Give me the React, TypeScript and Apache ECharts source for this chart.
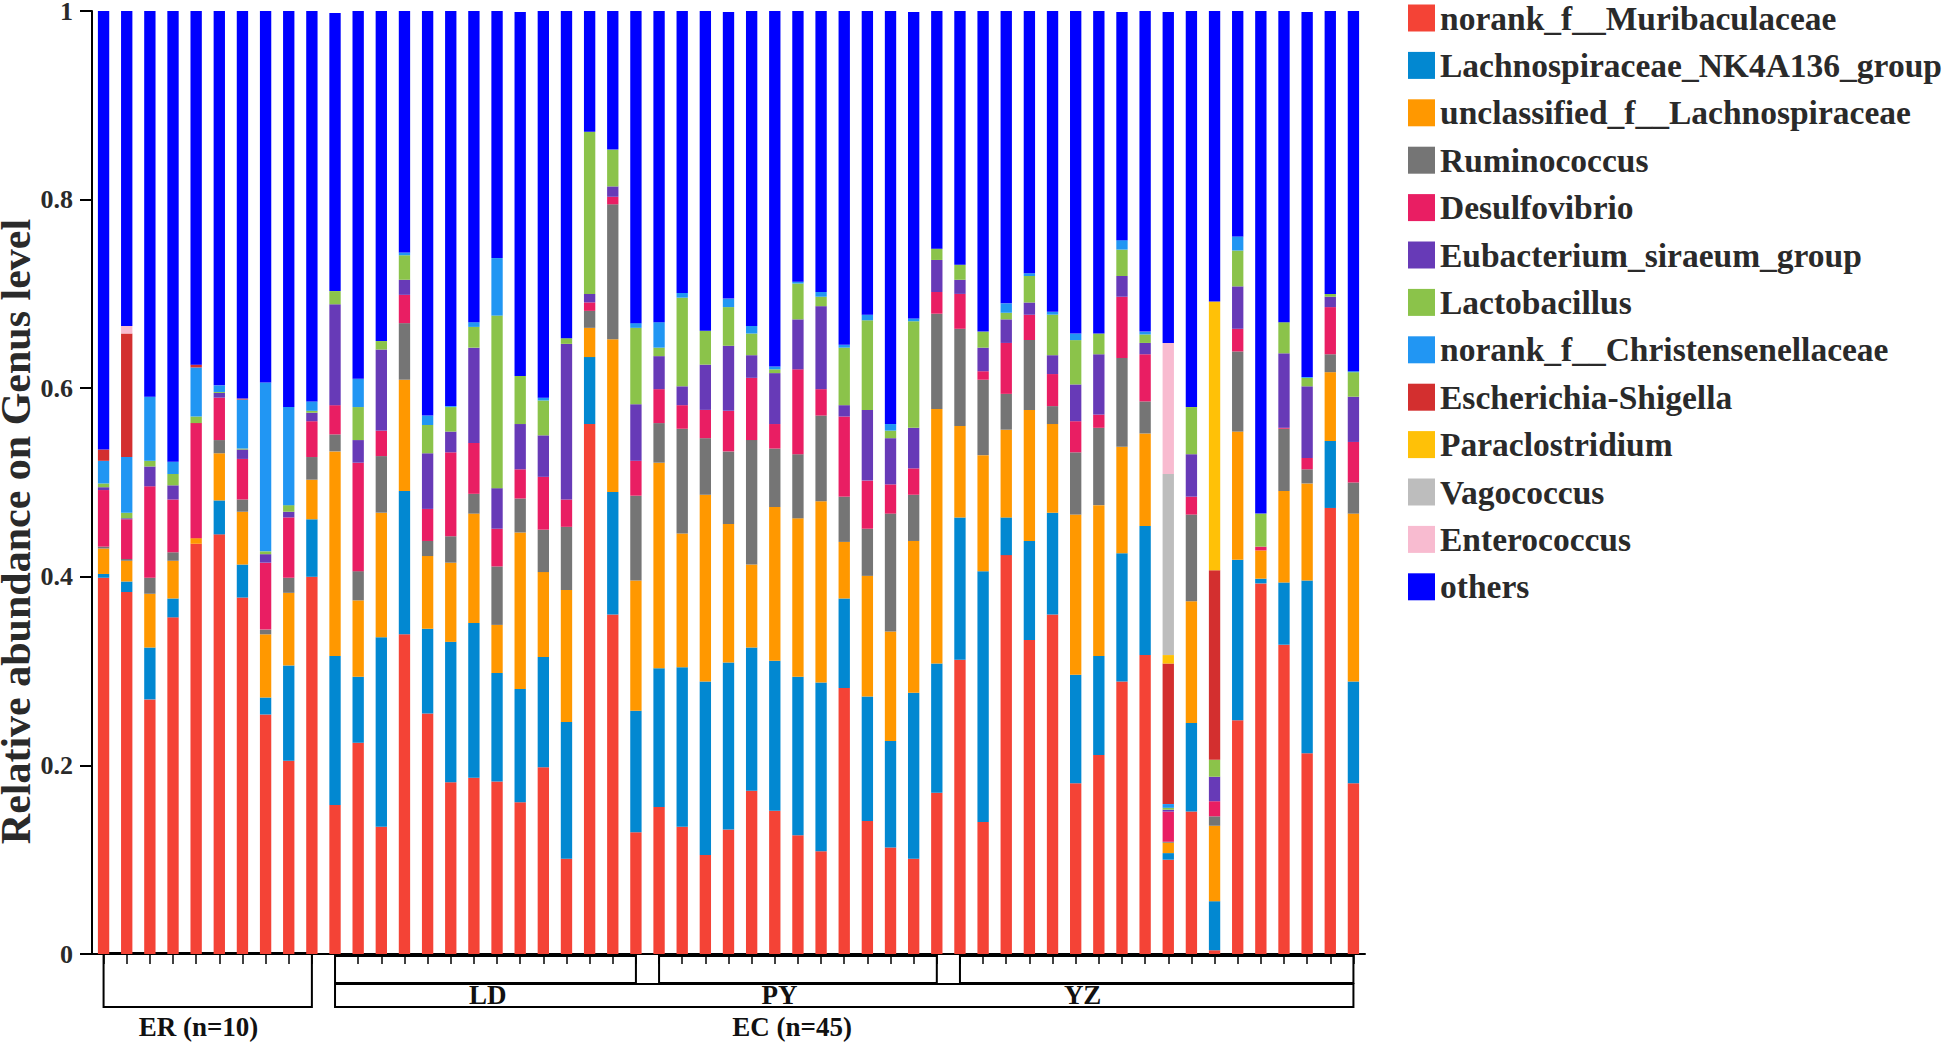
import React, { useEffect, useRef } from "react";
import * as echarts from "echarts";

const genera = [
  "norank_f__Muribaculaceae",
  "Lachnospiraceae_NK4A136_group",
  "unclassified_f__Lachnospiraceae",
  "Ruminococcus",
  "Desulfovibrio",
  "Eubacterium_siraeum_group",
  "Lactobacillus",
  "norank_f__Christensenellaceae",
  "Escherichia-Shigella",
  "Paraclostridium",
  "Vagococcus",
  "Enterococcus",
  "others",
];

const colors = [
  "#F44336", "#0288D1", "#FF9800", "#757575", "#E91E63", "#673AB7", "#8BC34A",
  "#2196F3", "#D32F2F", "#FFC107", "#BDBDBD", "#F8BBD0", "#0000FF",
];

const groupNames = ["ER", "LD", "PY", "YZ"];
const groupSizes = [10, 14, 13, 18];
const samples = groupNames.flatMap((g, i) =>
  Array.from({ length: groupSizes[i] }, (_, k) => g + (k + 1))
);

const muribaculaceae = [
  0.399, 0.384, 0.270, 0.357, 0.435, 0.445, 0.378, 0.254, 0.205, 0.400,
  0.158, 0.224, 0.135, 0.339, 0.255, 0.182, 0.187, 0.183, 0.161, 0.198,
  0.101, 0.562, 0.360, 0.129, 0.156, 0.135, 0.105, 0.132, 0.173, 0.152,
  0.126, 0.109, 0.282, 0.141, 0.113, 0.101, 0.171, 0.312, 0.140, 0.423,
  0.333, 0.360, 0.181, 0.211, 0.289, 0.317, 0.100, 0.151, 0.004, 0.248,
  0.393, 0.328, 0.213, 0.473, 0.181,
];
const nk4a136 = [
  0.004, 0.011, 0.055, 0.020, 0.000, 0.036, 0.035, 0.018, 0.101, 0.061,
  0.158, 0.070, 0.201, 0.152, 0.090, 0.149, 0.164, 0.115, 0.120, 0.117,
  0.145, 0.071, 0.130, 0.129, 0.147, 0.169, 0.184, 0.177, 0.152, 0.159,
  0.168, 0.179, 0.095, 0.132, 0.113, 0.176, 0.137, 0.151, 0.266, 0.040,
  0.105, 0.108, 0.115, 0.105, 0.136, 0.137, 0.007, 0.094, 0.052, 0.170,
  0.005, 0.066, 0.183, 0.071, 0.108,
];
const unclassifiedLachno = [
  0.027, 0.022, 0.057, 0.040, 0.006, 0.050, 0.056, 0.067, 0.077, 0.042,
  0.217, 0.081, 0.132, 0.118, 0.077, 0.084, 0.116, 0.051, 0.166, 0.090,
  0.140, 0.031, 0.162, 0.138, 0.218, 0.142, 0.198, 0.147, 0.088, 0.163,
  0.168, 0.192, 0.060, 0.128, 0.116, 0.161, 0.270, 0.097, 0.123, 0.093,
  0.139, 0.094, 0.170, 0.160, 0.113, 0.098, 0.011, 0.129, 0.080, 0.136,
  0.030, 0.097, 0.103, 0.073, 0.178,
];
const ruminococcus = [
  0.002, 0.002, 0.017, 0.009, 0.000, 0.014, 0.013, 0.005, 0.016, 0.024,
  0.018, 0.031, 0.060, 0.060, 0.016, 0.028, 0.021, 0.062, 0.036, 0.045,
  0.067, 0.018, 0.143, 0.090, 0.042, 0.111, 0.060, 0.077, 0.132, 0.062,
  0.068, 0.091, 0.048, 0.050, 0.125, 0.049, 0.101, 0.103, 0.080, 0.038,
  0.074, 0.019, 0.066, 0.082, 0.094, 0.034, 0.001, 0.092, 0.010, 0.085,
  0.000, 0.066, 0.015, 0.019, 0.033,
];
const desulfovibrio = [
  0.060, 0.042, 0.097, 0.056, 0.122, 0.045, 0.043, 0.071, 0.064, 0.038,
  0.031, 0.115, 0.027, 0.030, 0.034, 0.089, 0.054, 0.040, 0.031, 0.056,
  0.029, 0.009, 0.008, 0.037, 0.036, 0.025, 0.030, 0.043, 0.066, 0.026,
  0.090, 0.028, 0.085, 0.051, 0.031, 0.028, 0.023, 0.037, 0.009, 0.054,
  0.027, 0.034, 0.033, 0.014, 0.065, 0.050, 0.032, 0.019, 0.016, 0.024,
  0.004, 0.001, 0.012, 0.050, 0.043,
];
const eubacterium = [
  0.003, 0.001, 0.021, 0.015, 0.000, 0.005, 0.010, 0.009, 0.006, 0.009,
  0.107, 0.024, 0.086, 0.016, 0.059, 0.022, 0.101, 0.043, 0.048, 0.044,
  0.165, 0.009, 0.011, 0.060, 0.035, 0.020, 0.048, 0.069, 0.024, 0.054,
  0.053, 0.088, 0.012, 0.075, 0.049, 0.043, 0.034, 0.015, 0.025, 0.025,
  0.013, 0.020, 0.039, 0.064, 0.022, 0.012, 0.002, 0.045, 0.026, 0.045,
  0.000, 0.079, 0.076, 0.011, 0.048,
];
const lactobacillus = [
  0.004, 0.006, 0.006, 0.012, 0.007, 0.001, 0.001, 0.003, 0.007, 0.002,
  0.014, 0.035, 0.009, 0.026, 0.030, 0.026, 0.022, 0.183, 0.051, 0.037,
  0.006, 0.172, 0.039, 0.081, 0.009, 0.094, 0.036, 0.041, 0.023, 0.004,
  0.038, 0.010, 0.061, 0.095, 0.008, 0.113, 0.012, 0.016, 0.017, 0.007,
  0.028, 0.043, 0.047, 0.022, 0.028, 0.009, 0.002, 0.050, 0.018, 0.038,
  0.035, 0.033, 0.009, 0.003, 0.026,
];
const christensenellaceae = [
  0.024, 0.059, 0.068, 0.013, 0.052, 0.007, 0.052, 0.179, 0.104, 0.010,
  0.000, 0.030, 0.000, 0.003, 0.010, 0.001, 0.005, 0.061, 0.000, 0.003,
  0.000, 0.000, 0.000, 0.005, 0.027, 0.005, 0.000, 0.009, 0.008, 0.003,
  0.002, 0.005, 0.003, 0.006, 0.007, 0.003, 0.000, 0.000, 0.000, 0.010,
  0.003, 0.003, 0.007, 0.000, 0.010, 0.003, 0.004, 0.000, 0.000, 0.015,
  0.000, 0.000, 0.001, 0.000, 0.001,
];
const escherichia = [
  0.012, 0.131, 0, 0, 0.003, 0, 0.001, 0, 0, 0,
  0, 0, 0, 0, 0, 0, 0, 0, 0, 0,
  0, 0, 0, 0, 0, 0, 0, 0, 0, 0,
  0, 0, 0, 0, 0, 0, 0, 0, 0, 0,
  0, 0, 0, 0, 0, 0, 0.149, 0, 0.201, 0,
  0, 0, 0, 0, 0,
];
const paraclostridium = [
  0, 0, 0, 0, 0, 0, 0, 0, 0, 0,
  0, 0, 0, 0, 0, 0, 0, 0, 0, 0,
  0, 0, 0, 0, 0, 0, 0, 0, 0, 0,
  0, 0, 0, 0, 0, 0, 0, 0, 0, 0,
  0, 0, 0, 0, 0, 0, 0.009, 0, 0.285, 0,
  0, 0, 0, 0, 0,
];
const vagococcus = [
  0, 0, 0, 0, 0, 0, 0, 0, 0, 0,
  0, 0, 0, 0, 0, 0, 0, 0, 0, 0,
  0, 0, 0, 0, 0, 0, 0, 0, 0, 0,
  0, 0, 0, 0, 0, 0, 0, 0, 0, 0,
  0, 0, 0, 0, 0, 0, 0.192, 0, 0, 0,
  0, 0, 0, 0, 0,
];
const enterococcus = [
  0, 0.008, 0, 0, 0, 0, 0, 0, 0, 0,
  0, 0, 0, 0, 0, 0, 0, 0, 0, 0,
  0, 0, 0, 0, 0, 0, 0, 0, 0, 0,
  0, 0, 0, 0, 0, 0, 0, 0, 0, 0,
  0, 0, 0, 0, 0, 0, 0.139, 0, 0, 0,
  0, 0, 0, 0, 0,
];
const others = [
  0.467, 0.336, 0.410, 0.478, 0.376, 0.397, 0.412, 0.395, 0.422, 0.416,
  0.295, 0.391, 0.351, 0.258, 0.430, 0.420, 0.332, 0.262, 0.386, 0.410,
  0.348, 0.129, 0.149, 0.332, 0.330, 0.300, 0.340, 0.304, 0.334, 0.378,
  0.287, 0.298, 0.354, 0.323, 0.438, 0.325, 0.253, 0.269, 0.341, 0.311,
  0.278, 0.319, 0.342, 0.342, 0.242, 0.340, 0.351, 0.421, 0.309, 0.240,
  0.533, 0.330, 0.387, 0.300, 0.382,
];

const seriesValues = [
  muribaculaceae, nk4a136, unclassifiedLachno, ruminococcus, desulfovibrio,
  eubacterium, lactobacillus, christensenellaceae, escherichia, paraclostridium,
  vagococcus, enterococcus, others,
];

// group brackets: first/last sample index, label position (in sample index units)
const subgroupBoxes = [
  { label: "LD", from: 10, to: 23, labelAt: 16.6 },
  { label: "PY", from: 24, to: 36, labelAt: 29.2 },
  { label: "YZ", from: 37, to: 54, labelAt: 42.3 },
];
const mainGroups = [
  { label: "ER (n=10)", from: 0, to: 9, labelAt: 4.1, full: true },
  { label: "EC (n=45)", from: 10, to: 54, labelAt: 29.75, full: false },
];

const FONT = "'Liberation Serif', 'Times New Roman', serif";

export default function App() {
  const ref = useRef<HTMLDivElement>(null);

  useEffect(() => {
    if (!ref.current) return;
    const chart = echarts.init(ref.current, undefined, { renderer: "svg" });
    chart.setOption({
      animation: false,
      grid: {
        left: 92,
        right: 581,
        top: 11,
        bottom: 91,
        containLabel: false,
        outerBoundsMode: "none",
      },
      legend: {
        orient: "vertical",
        left: 1403,
        top: -4,
        itemWidth: 27,
        itemHeight: 27,
        itemGap: 13.4,
        icon: "rect",
        selectedMode: false,
        data: genera,
        textStyle: {
          fontFamily: FONT,
          fontWeight: "bold",
          fontSize: 33.5,
          color: "#2a2a2a",
        },
      },
      xAxis: {
        type: "category",
        data: samples,
        axisLine: { lineStyle: { color: "#000", width: 2 } },
        axisTick: { show: true, alignWithLabel: true, interval: 0, length: 10, lineStyle: { color: "#000", width: 1.5 } },
        axisLabel: { show: false },
      },
      yAxis: {
        type: "value",
        min: 0,
        max: 1,
        interval: 0.2,
        name: "Relative abundance on Genus level",
        nameLocation: "middle",
        nameGap: 61,
        nameMoveOverlap: false,
        nameTextStyle: {
          fontFamily: FONT,
          fontWeight: "bold",
          fontSize: 42,
          lineHeight: 30,
          color: "#2a2a2a",
          padding: [0, 98, 0, 0],
        },
        splitLine: { show: false },
        axisLine: { show: true, lineStyle: { color: "#000", width: 2 } },
        axisTick: { show: true, length: 12, lineStyle: { color: "#000", width: 2 } },
        axisLabel: {
          fontFamily: FONT,
          fontWeight: "bold",
          fontSize: 26,
          lineHeight: 20,
          padding: [4, 0, 0, 0],
          color: "#2a2a2a",
          margin: 19,
        },
      },
      series: genera.map((name, i) => ({
        name,
        type: "bar",
        stack: "total",
        barWidth: "49%",
        data: seriesValues[i],
        itemStyle: { color: colors[i] },
        emphasis: { disabled: true },
      })),
    });

    const x0 = chart.convertToPixel({ xAxisIndex: 0 }, 0) as number;
    const x1 = chart.convertToPixel({ xAxisIndex: 0 }, 1) as number;
    const step = x1 - x0;
    const axisY = chart.convertToPixel({ yAxisIndex: 0 }, 0) as number;
    const px = (i: number) => x0 + i * step;
    const lineStyle = { fill: "none", stroke: "#000", lineWidth: 2 };
    const textStyleBase = {
      fontFamily: FONT,
      fontWeight: "bold",
      fontSize: 27,
      fill: "#111",
      align: "center",
      verticalAlign: "middle",
    };

    const graphics: any[] = [];
    subgroupBoxes.forEach((b) => {
      graphics.push({
        type: "rect",
        silent: true,
        shape: { x: px(b.from), y: axisY + 2, width: px(b.to) - px(b.from), height: 27 },
        style: lineStyle,
      });
      graphics.push({
        type: "text",
        silent: true,
        x: px(b.labelAt),
        y: axisY + 41,
        style: { ...textStyleBase, text: b.label },
      });
    });
    mainGroups.forEach((g) => {
      const top = g.full ? axisY - 1 : axisY + 30;
      graphics.push({
        type: "rect",
        silent: true,
        shape: { x: px(g.from), y: top, width: px(g.to) - px(g.from), height: axisY + 53 - top },
        style: lineStyle,
      });
      graphics.push({
        type: "text",
        silent: true,
        x: px(g.labelAt),
        y: axisY + 73,
        style: { ...textStyleBase, text: g.label },
      });
    });
    chart.setOption({ graphic: graphics });

    return () => chart.dispose();
  }, []);

  return (
    <div
      ref={ref}
      style={{ position: "absolute", left: 0, top: 0, width: 1946, height: 1045, background: "#fff" }}
    />
  );
}
